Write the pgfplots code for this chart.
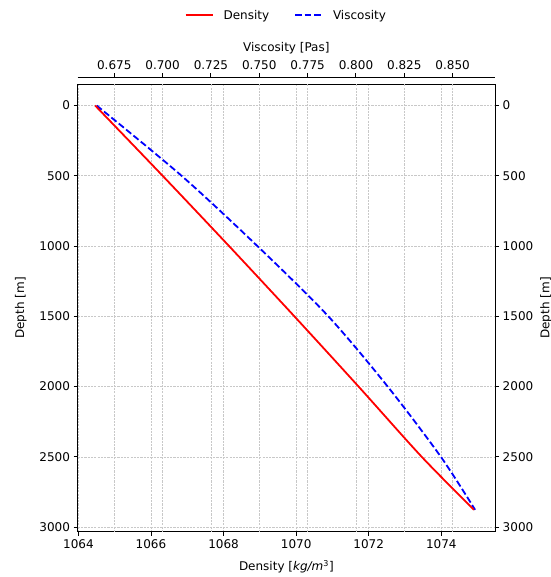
\documentclass[border=0pt]{standalone}
\usepackage{fontspec}
\setmainfont{DejaVu Sans}
\usepackage{pgfplots}
\pgfplotsset{compat=1.18}

\definecolor{gridgray}{RGB}{200,200,200}

\pgfplotsset{
  base/.style={
    scale only axis, width=417.3pt,
    font=\fontsize{12}{14.4}\selectfont,
    /pgf/number format/assume math mode=true,
    /pgf/number format/1000 sep={},
    tick align=outside, major tick length=4.2pt,
    every tick/.style={black, line width=1pt},
    axis line style={line width=1pt, black},
    grid style={gridgray, line width=0.6pt, dash pattern=on 2.2pt off 1.1pt},
  },
  common/.style={
    base, height=447.4pt,
    at={(0,0)}, anchor=south west,
    y dir=reverse, ymin=-151, ymax=3033,
  },
  dens/.style={xmin=1063.98, xmax=1075.48},
  visc/.style={xmin=0.6561, xmax=0.8719, scaled x ticks=false,
    xtick={0.675,0.700,0.725,0.750,0.775,0.800,0.825,0.850}},
  depthticks/.style={ytick={0,500,1000,1500,2000,2500,3000}},
}

\begin{document}
\begin{tikzpicture}

% main box: density on the bottom, depth on the left
\begin{axis}[common, dens, depthticks,
  xtick={1064,1066,1068,1070,1072,1074},
  xtick pos=bottom, ytick pos=left,
  grid=major,
  xlabel={Density [\textit{kg/m}\textsuperscript{3}]},
  xlabel style={yshift=-5pt},
  ylabel={Depth [m]},
  ylabel shift=6pt,
]
\end{axis}

% viscosity grid and curve
\begin{axis}[common, visc,
  ytick=\empty, xmajorgrids,
  axis line style={draw=none}, xticklabels={}, major tick length=0pt,
]
\addplot[blue, smooth, line width=1.8pt, dash pattern=on 6.6pt off 2.9pt] coordinates {
  (0.6659,0) (0.7098,500) (0.7490,1000) (0.7857,1500)
  (0.8164,2000) (0.8439,2500) (0.8616,2877)
};
\end{axis}

% density curve, right depth axis and legend
\begin{axis}[common, dens, depthticks,
  axis x line=none, axis y line*=right,
  ylabel={Depth [m]},
  legend columns=2,
  legend style={at={(0.5,1)}, anchor=center, yshift=69pt, draw=none, fill=none,
    /tikz/every even column/.append style={column sep=23pt}},
  legend image code/.code={\draw[#1] (0pt,0pt) -- (27pt,0pt); \path (35pt,0pt);},
]
\addplot[red, smooth, line width=1.8pt] coordinates {
  (1064.46,0) (1066.32,500) (1068.15,1000) (1069.95,1500)
  (1071.72,2000) (1073.46,2500) (1074.90,2877)
};
\addlegendentry{Density}
\addlegendimage{blue, line width=1.8pt, dash pattern=on 6.6pt off 2.9pt}
\addlegendentry{Viscosity}
\end{axis}

% offset top spine for viscosity
\begin{axis}[base, visc, height=1pt, at={(0,454.4pt)}, anchor=north west,
  ymin=0, ymax=1,
  axis x line*=top, axis y line=none,
  xticklabel style={/pgf/number format/.cd, fixed, fixed zerofill, precision=3},
  xlabel={Viscosity [Pas]},
]
\end{axis}

\pgfresetboundingbox
\useasboundingbox (-77.7pt,-45.3pt) rectangle (472.3pt,531.7pt);
\end{tikzpicture}
\end{document}
